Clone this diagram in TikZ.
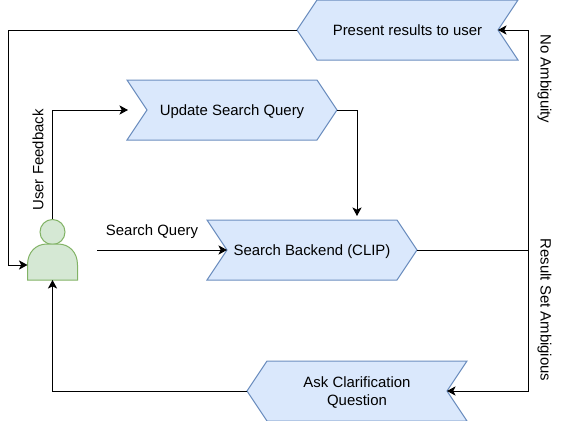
\documentclass[tikz,border=0pt]{standalone}
\usepackage{fontspec}
\setmainfont{Liberation Sans}
\usetikzlibrary{arrows.meta,shapes.symbols}
\definecolor{flowfill}{HTML}{DAE8FC}
\definecolor{flowline}{HTML}{6C8EBF}
\definecolor{userfill}{HTML}{D5E8D4}
\definecolor{userline}{HTML}{82B366}
\tikzset{
	flowbox/.style={draw=flowline, fill=flowfill, signal, signal pointer angle=112.6, minimum height=45pt, inner sep=0pt, outer sep=0pt, align=center},
	toeast/.style={flowbox, signal from=west, signal to=east},
	towest/.style={flowbox, signal from=east, signal to=west},
}
\begin{document}
\begin{tikzpicture}[every node/.style={font=\fontsize{11.2}{13.5}\selectfont, text depth=0pt}, >={Stealth[length=6.5pt, width=7pt, inset=1.8pt]}, x=0.75pt, y=-0.75pt, line width=0.75pt]
	\useasboundingbox (0,0) rectangle (568,421);
	\node[towest, minimum width=165.75pt] (present) at (407.5,30) {Present results to user};
	\node[toeast, minimum width=157.5pt] (update) at (232,110) {Update Search Query};
	\node[toeast, minimum width=157.5pt] (backend) at (312,250) {Search Backend (CLIP)};
	\node[towest, minimum width=165pt, yshift=-0.75pt] (ask) at (357,390) {Ask Clarification\\Question};
	% person
	\node[circle, draw=userline, fill=userfill, minimum size=18.75pt, inner sep=0pt] (userhead) at (52.5,232) {};
	\node[minimum width=37.5pt, minimum height=27pt, inner sep=0pt, outer sep=0pt] (userbody) at (52.5,262) {};
	\draw[draw=userline, fill=userfill] (userbody.south west) -- (27.5,265) .. controls (27.5,252) and (36,244) .. (47,244) -- (58,244) .. controls (69,244) and (77.5,252) .. (77.5,265) -- (userbody.south east) -- cycle;
	\coordinate (userin) at (27.5,265);
	\coordinate (updatein) at (128,110);
	\coordinate (backendin) at (357,216);
	\coordinate (queryout) at (97,250);
	\coordinate (branch) at (528,250);
	% connectors
	\draw[->] (present.west) -| (8,265) -- (userin);
	\draw[->] (userhead.north) |- (updatein);
	\draw[->] (update.east) -| (backendin);
	\draw[->] (queryout) -- (backend.west);
	\draw (backend.east) -- (branch);
	\draw[->] (branch) |- (present.east);
	\draw[->] (branch) |- (ask.east);
	\draw[->] (ask.west) -| (userbody.south);
	% labels
	\node[rotate=90] (feedback) at (38,160) {User Feedback};
	\node (query) at (152,230) {Search Query};
	\node[rotate=-90] (noamb) at (546,79) {No Ambiguity};
	\node[rotate=-90] (amb) at (546,310) {Result Set Ambigious};
\end{tikzpicture}
\end{document}
